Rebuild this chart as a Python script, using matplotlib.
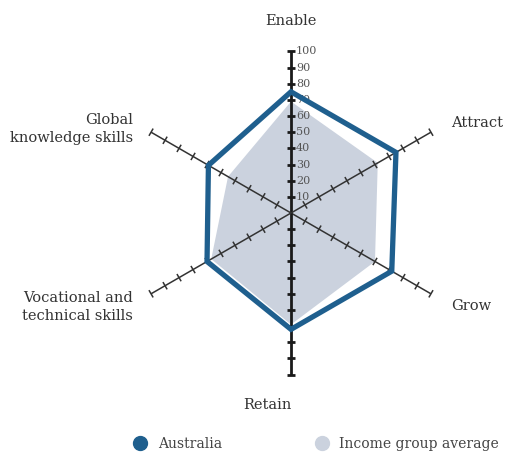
import numpy as np
import matplotlib.pyplot as plt
from matplotlib.lines import Line2D

# --------------------------
# Data
# --------------------------
categories = ["Enable", "Attract", "Grow", "Retain",
              "Vocational and\ntechnical skills", "Global\nknowledge skills"]
australia = [75, 75, 72, 72, 60, 59]
income_avg = [69, 62, 60, 69, 57, 45]
tick_values = [10, 20, 30, 40, 50, 60, 70, 80, 90, 100]

blue = "#1f5f8e"
grey_fill = "#cbd2de"
plt.rcParams["font.family"] = ["DejaVu Serif"]

W, H = 507, 455
cx, cy = 291, 213          # centre in pixels (from top)
scale = 1.616              # pixels per unit

fig = plt.figure(figsize=(W / 100, H / 100), dpi=100)
ax = fig.add_axes([0, 0, 1, 1])
ax.set_xlim(-cx / scale, (W - cx) / scale)
ax.set_ylim(-(H - cy) / scale, cy / scale)
ax.set_aspect("equal")
ax.axis("off")

angles = np.deg2rad(np.arange(6) * 60)   # clockwise from top


def xy(r, a):
    return r * np.sin(a), r * np.cos(a)


# --------------------------
# Income group fill (under the axes)
# --------------------------
ia = np.array(income_avg)
xs, ys = xy(ia, angles)
ax.fill(xs, ys, color=grey_fill, lw=0, zorder=0)

# --------------------------
# Axes with ticks
# --------------------------
for i, a in enumerate(angles):
    vertical = i in (0, 3)
    lw = 2.0 if vertical else 1.1
    col = "#1a1a1a" if vertical else "#333333"
    x1, y1 = xy(100, a)
    ax.plot([0, x1], [0, y1], color=col, lw=lw, zorder=1, solid_capstyle="butt")
    half = 2.6
    px, py = np.cos(a), -np.sin(a)
    for t in tick_values:
        tx, ty = xy(t, a)
        ax.plot([tx - half * px, tx + half * px], [ty - half * py, ty + half * py],
                color=col, lw=lw, zorder=1, solid_capstyle="butt")

for t in tick_values:
    ax.text(3.0, t, str(t), fontsize=8, color="#555555", va="center", ha="left", zorder=2)

# --------------------------
# Australia outline
# --------------------------
au = np.array(australia)
xs, ys = xy(au, angles)
ax.fill(xs, ys, facecolor="none", edgecolor=blue, lw=3.8, joinstyle="miter", zorder=4)

# --------------------------
# Category labels
# --------------------------
label_pos = [(291, 21, "center"), (451, 123, "left"), (451, 306, "left"),
             (267, 405, "center"), (133, 307, "right"), (133, 129, "right")]
for lab, (px_, py_, ha) in zip(categories, label_pos):
    fig.text(px_ / W, 1 - py_ / H, lab, fontsize=10.5, ha=ha, va="center",
             color="#333333", multialignment=ha, linespacing=1.3)

# --------------------------
# Legend
# --------------------------
handles = [
    Line2D([], [], marker="o", ls="none", markersize=10, color=blue, label="Australia"),
    Line2D([], [], marker="o", ls="none", markersize=10, color=grey_fill, label="Income group average"),
]
fig.legend(handles=handles, loc="center left", bbox_to_anchor=(114 / W, 1 - 444 / H),
           ncol=2, frameon=False, fontsize=10, handletextpad=0.25,
           columnspacing=6.2, labelcolor="#444444")

fig.savefig("out.png", dpi=100)
